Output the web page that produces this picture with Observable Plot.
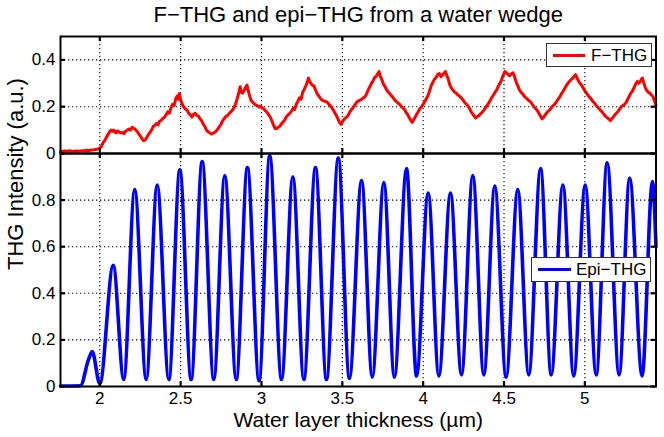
<!DOCTYPE html>
<html><head><meta charset="utf-8">
<script src="https://cdn.jsdelivr.net/npm/d3@7"></script>
<script src="https://cdn.jsdelivr.net/npm/@observablehq/plot@0.6"></script>
<style>
body{margin:0;background:#fff;}
#wrap{position:relative;width:664px;height:437px;font-family:"Liberation Sans",Arial,Helvetica,sans-serif;}
#wrap svg{position:absolute;left:0;top:0;}
.legend{position:absolute;background:#fff;border:1px solid #333;box-sizing:border-box;font-size:17px;color:#000;}
.legend .sw{position:absolute;height:3px;}
.legend .lb{position:absolute;line-height:1;}
</style></head><body><div id="wrap"></div>
<script>
// ---- data ----
const titleText = "F\u2212THG and epi\u2212THG from a water wedge";
const xLabel = "Water layer thickness (\u00b5m)";
const yLabel = "THG Intensity (a.u.)";
const xDomain = [1.757, 5.44];
const xTicks = [2, 2.5, 3, 3.5, 4, 4.5, 5];
const fTicks = [0, 0.2, 0.4];
const fGrid = [0.2, 0.4];
const eTicks = [0, 0.2, 0.4, 0.6, 0.8];
const eGrid = [0.2, 0.4, 0.6, 0.8];

// F-THG (red)
const fX = [
1.757,1.77,1.785,1.8,1.815,1.83,1.845,1.86,1.875,1.89,
1.905,1.92,1.935,1.95,1.965,1.98,1.99,2.0,2.01,2.02,
2.03,2.04,2.05,2.06,2.07,2.078,2.085,2.092,2.1,2.108,
2.115,2.122,2.13,2.14,2.15,2.16,2.17,2.18,2.19,2.2,
2.21,2.22,2.23,2.24,2.25,2.26,2.27,2.28,2.29,2.3,
2.31,2.32,2.33,2.34,2.35,2.36,2.37,2.38,2.39,2.4,
2.41,2.42,2.43,2.44,2.45,2.46,2.47,2.478,2.485,2.492,
2.5,2.51,2.52,2.53,2.54,2.55,2.56,2.57,2.58,2.59,
2.6,2.61,2.62,2.63,2.64,2.65,2.66,2.67,2.68,2.69,
2.7,2.71,2.72,2.73,2.74,2.75,2.76,2.77,2.78,2.79,
2.8,2.81,2.82,2.83,2.84,2.85,2.86,2.868,2.875,2.882,
2.89,2.9,2.91,2.918,2.925,2.935,2.945,2.955,2.965,2.975,
2.985,2.995,3.005,3.015,3.025,3.035,3.045,3.055,3.065,3.075,
3.085,3.095,3.105,3.115,3.125,3.135,3.145,3.155,3.165,3.175,
3.185,3.195,3.205,3.215,3.225,3.235,3.245,3.255,3.265,3.275,
3.283,3.29,3.297,3.305,3.315,3.325,3.335,3.345,3.355,3.365,
3.375,3.385,3.395,3.405,3.415,3.425,3.435,3.445,3.455,3.465,
3.475,3.485,3.492,3.5,3.51,3.52,3.53,3.54,3.55,3.56,
3.57,3.58,3.59,3.6,3.61,3.62,3.63,3.64,3.65,3.66,
3.67,3.68,3.69,3.7,3.71,3.72,3.727,3.735,3.745,3.755,
3.765,3.775,3.785,3.795,3.805,3.815,3.825,3.835,3.845,3.855,
3.865,3.875,3.885,3.895,3.905,3.915,3.925,3.932,3.94,3.95,
3.96,3.97,3.98,3.99,4.0,4.01,4.02,4.03,4.04,4.05,
4.06,4.07,4.08,4.09,4.1,4.11,4.12,4.13,4.138,4.145,
4.155,4.165,4.175,4.185,4.195,4.205,4.215,4.225,4.235,4.245,
4.255,4.265,4.275,4.285,4.295,4.305,4.315,4.325,4.335,4.345,
4.355,4.365,4.375,4.385,4.395,4.405,4.415,4.425,4.435,4.445,
4.455,4.465,4.475,4.485,4.495,4.505,4.515,4.525,4.535,4.545,
4.555,4.565,4.575,4.585,4.595,4.605,4.615,4.625,4.635,4.645,
4.655,4.665,4.675,4.685,4.695,4.705,4.715,4.725,4.735,4.745,
4.755,4.765,4.775,4.785,4.795,4.805,4.815,4.825,4.835,4.845,
4.855,4.865,4.875,4.885,4.895,4.905,4.915,4.925,4.935,4.942,
4.95,4.96,4.97,4.98,4.99,5.0,5.01,5.02,5.03,5.04,
5.05,5.06,5.07,5.08,5.09,5.1,5.11,5.12,5.13,5.14,
5.15,5.158,5.165,5.175,5.185,5.195,5.205,5.215,5.225,5.235,
5.245,5.255,5.265,5.275,5.285,5.295,5.305,5.315,5.325,5.332,
5.34,5.35,5.356,5.363,5.372,5.382,5.392,5.402,5.412,5.422,
5.432,5.44];
const fY = [
0.008,0.01,0.011,0.01,0.012,0.009,0.01,0.011,0.01,0.012,
0.012,0.014,0.013,0.015,0.016,0.018,0.02,0.022,0.03,0.045,
0.055,0.068,0.08,0.092,0.1,0.095,0.1,0.092,0.088,0.097,
0.095,0.09,0.088,0.09,0.085,0.095,0.1,0.105,0.1,0.112,
0.108,0.103,0.095,0.085,0.075,0.065,0.055,0.058,0.068,0.08,
0.09,0.1,0.115,0.12,0.128,0.122,0.138,0.142,0.15,0.155,
0.165,0.178,0.172,0.195,0.21,0.205,0.235,0.245,0.232,0.256,
0.228,0.21,0.198,0.19,0.185,0.172,0.165,0.156,0.168,0.172,
0.163,0.16,0.148,0.14,0.125,0.115,0.1,0.093,0.088,0.083,
0.086,0.09,0.096,0.105,0.115,0.125,0.14,0.15,0.158,0.162,
0.17,0.178,0.185,0.195,0.212,0.235,0.26,0.285,0.262,0.258,
0.265,0.28,0.292,0.27,0.25,0.228,0.22,0.212,0.208,0.205,
0.198,0.202,0.195,0.19,0.182,0.175,0.165,0.155,0.138,0.12,
0.106,0.108,0.112,0.118,0.128,0.135,0.145,0.158,0.165,0.172,
0.18,0.193,0.188,0.21,0.222,0.238,0.232,0.262,0.275,0.29,
0.305,0.322,0.31,0.3,0.292,0.288,0.27,0.255,0.245,0.235,
0.228,0.225,0.222,0.22,0.212,0.205,0.195,0.185,0.172,0.16,
0.145,0.13,0.125,0.135,0.145,0.152,0.158,0.168,0.182,0.19,
0.2,0.21,0.22,0.225,0.228,0.232,0.238,0.242,0.255,0.272,
0.285,0.3,0.31,0.325,0.33,0.342,0.35,0.33,0.315,0.295,
0.285,0.27,0.262,0.255,0.245,0.238,0.228,0.222,0.215,0.21,
0.2,0.195,0.188,0.175,0.165,0.152,0.14,0.133,0.142,0.155,
0.168,0.18,0.192,0.2,0.21,0.222,0.235,0.248,0.268,0.29,
0.305,0.318,0.325,0.338,0.342,0.328,0.335,0.345,0.35,0.335,
0.318,0.292,0.28,0.27,0.262,0.258,0.25,0.245,0.238,0.23,
0.22,0.212,0.205,0.195,0.18,0.17,0.16,0.152,0.158,0.162,
0.17,0.176,0.185,0.195,0.205,0.215,0.228,0.24,0.25,0.262,
0.272,0.288,0.3,0.315,0.335,0.35,0.345,0.338,0.332,0.34,
0.345,0.33,0.305,0.29,0.272,0.262,0.255,0.245,0.238,0.232,
0.225,0.22,0.21,0.2,0.192,0.185,0.172,0.16,0.148,0.155,
0.165,0.175,0.182,0.188,0.198,0.205,0.212,0.222,0.232,0.242,
0.255,0.265,0.278,0.29,0.3,0.308,0.315,0.322,0.33,0.337,
0.325,0.31,0.3,0.292,0.28,0.268,0.258,0.248,0.24,0.232,
0.222,0.215,0.205,0.198,0.19,0.182,0.175,0.165,0.158,0.152,
0.146,0.14,0.148,0.155,0.165,0.172,0.18,0.19,0.2,0.205,
0.21,0.218,0.232,0.245,0.258,0.268,0.282,0.298,0.308,0.3,
0.305,0.318,0.322,0.305,0.285,0.27,0.262,0.258,0.25,0.242,
0.222,0.205];

// Epi-THG (blue): flat start, then alternating peaks and troughs
const eX = [1.757,1.88,1.93,1.953,2.0,2.083,2.148,2.216,2.287,2.355,2.427,2.495,2.565,2.633,2.705,2.773,2.844,2.913,2.985,3.051,3.124,3.194,3.262,3.334,3.402,3.475,3.544,3.619,3.685,3.757,3.822,3.897,3.959,4.031,4.097,4.169,4.237,4.307,4.375,4.443,4.513,4.585,4.653,4.726,4.792,4.864,4.931,5.002,5.07,5.138,5.212,5.277,5.354,5.418,5.44];
const eY = [0.002,0.003,0.115,0.15,0.012,0.52,0.03,0.845,0.03,0.865,0.03,0.93,0.03,0.965,0.03,0.905,0.03,0.94,0.025,0.99,0.03,0.9,0.03,0.94,0.03,0.98,0.035,0.885,0.04,0.875,0.04,0.935,0.045,0.83,0.045,0.83,0.05,0.905,0.05,0.86,0.04,0.845,0.05,0.935,0.05,0.865,0.045,0.865,0.05,0.96,0.05,0.895,0.045,0.88,0.6];

// ---- chart ----
const W = 664, H = 437, ML = 60, MR = 8.5;
const font = '"Liberation Sans", Arial, Helvetica, sans-serif';
const fData = fX.map((x, i) => ({x, y: fY[i]}));
const eData = eX.map((x, i) => ({x, y: eY[i]}));
const grid = {stroke: "#000", strokeOpacity: 1, strokeWidth: 1.1, strokeDasharray: "1.3,2.7"};
const fmt = d => String(d);
const frameW = W - ML - MR;

function ticks(frameH, yt) {
  const t = {stroke: "#000", strokeWidth: 2.2};
  return [
    Plot.tickX(xTicks, {x: d => d, insetTop: frameH - 5, ...t}),
    Plot.tickX(xTicks, {x: d => d, insetBottom: frameH - 5, ...t}),
    Plot.tickY(yt, {y: d => d, insetRight: frameW - 5, ...t}),
    Plot.tickY(yt, {y: d => d, insetLeft: frameW - 5, ...t})
  ];
}

const topPlot = Plot.plot({
  width: W, height: H, marginTop: 36, marginBottom: H - 153, marginLeft: ML, marginRight: MR,
  x: {domain: xDomain, axis: null},
  y: {domain: [0, 0.5], axis: null},
  style: {fontFamily: font, background: "transparent", overflow: "visible"},
  marks: [
    Plot.gridX(xTicks, grid),
    Plot.gridY(fGrid, grid),
    Plot.line(fData, {x: "x", y: "y", stroke: "#ff0000", strokeWidth: 3, strokeLinejoin: "round"}),
    ...ticks(117, fTicks),
    Plot.frame({stroke: "#000", strokeWidth: 2}),
    Plot.axisY(fTicks, {tickSize: 0, tickPadding: 5, fontSize: 17, label: null, tickFormat: fmt}),
    Plot.text([titleText], {text: d => d, frameAnchor: "top", dy: -15, lineAnchor: "bottom", fontSize: 22})
  ]
});

const botPlot = Plot.plot({
  width: W, height: H, marginTop: 153, marginBottom: 51, marginLeft: ML, marginRight: MR,
  x: {domain: xDomain},
  y: {domain: [0, 1]},
  style: {fontFamily: font, background: "transparent", overflow: "visible"},
  marks: [
    Plot.gridX(xTicks, grid),
    Plot.gridY(eGrid, grid),
    Plot.line(eData, {x: "x", y: "y", stroke: "#0000ff", strokeWidth: 3.6, curve: "monotone-x", strokeLinejoin: "round"}),
    ...ticks(233, eTicks),
    Plot.frame({stroke: "#000", strokeWidth: 2}),
    Plot.axisX(xTicks, {tickSize: 0, tickPadding: 5, fontSize: 17, label: null, tickFormat: fmt}),
    Plot.axisY(eTicks, {tickSize: 0, tickPadding: 5, fontSize: 17, label: null, tickFormat: fmt}),
    Plot.text([xLabel], {text: d => d, frameAnchor: "bottom", dy: 40, lineAnchor: "bottom", fontSize: 21}),
    Plot.text([yLabel], {text: d => d, frameAnchor: "left", dx: -37.5, rotate: -90, lineAnchor: "bottom", fontSize: 22})
  ]
});

const wrap = document.getElementById("wrap");
wrap.appendChild(botPlot);
wrap.appendChild(topPlot);

function legend(label, color, left, top, width, height, swL, swW, txL) {
  const d = document.createElement("div");
  d.className = "legend";
  Object.assign(d.style, {left: left + "px", top: top + "px", width: width + "px", height: height + "px"});
  const s = document.createElement("div");
  s.className = "sw";
  Object.assign(s.style, {left: swL + "px", width: swW + "px", top: (height / 2 - 2.5) + "px", background: color});
  const t = document.createElement("div");
  t.className = "lb";
  t.textContent = label;
  Object.assign(t.style, {left: txL + "px", top: (height / 2 - 9.5) + "px"});
  d.append(s, t);
  wrap.appendChild(d);
}
legend("F\u2212THG", "#ff0000", 546, 43, 106, 24, 6, 32, 44);
legend("Epi\u2212THG", "#0000ff", 531, 257, 120, 25, 6, 33, 44);
</script>
</body></html>
